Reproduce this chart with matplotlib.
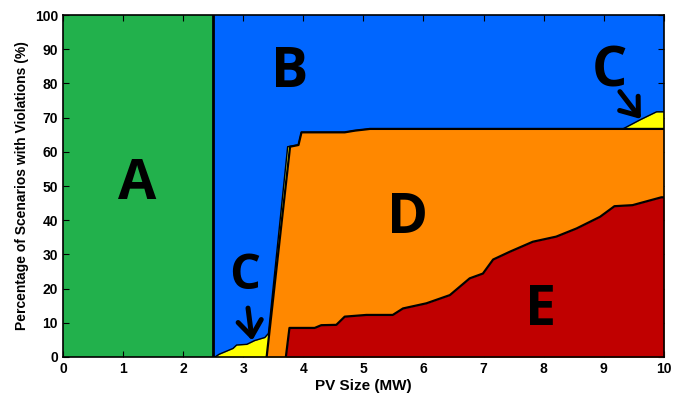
import matplotlib
matplotlib.use("Agg")
import matplotlib.pyplot as plt

# region boundaries (x in MW, y in %)
boundary_ab = 2.5

c_x = [2.5, 2.53, 2.6, 2.83, 2.89, 3.06, 3.19, 3.36, 3.42, 3.74, 3.92, 3.97, 4.69, 4.86, 5.11, 9.32, 9.6, 9.88, 10.0]
c_y = [0.0, 0.0, 0.8, 2.5, 3.5, 3.7, 4.8, 5.7, 6.9, 61.5, 62.0, 65.7, 65.7, 66.2, 66.7, 66.7, 69.3, 71.7, 71.7]

d_x = [3.39, 3.78, 3.92, 3.97, 4.69, 4.86, 5.11, 10.0]
d_y = [0.0, 61.5, 62.0, 65.7, 65.7, 66.2, 66.7, 66.7]

e_x = [3.71, 3.77, 4.19, 4.30, 4.55, 4.69, 5.05, 5.49, 5.66, 6.05, 6.44, 6.77, 6.99, 7.16,
       7.44, 7.82, 8.21, 8.55, 8.94, 9.18, 9.48, 9.96, 10.0]
e_y = [0.0, 8.5, 8.5, 9.3, 9.4, 11.8, 12.3, 12.3, 14.2, 15.7, 18.1, 23.0, 24.4, 28.5,
       30.8, 33.7, 35.2, 37.6, 41.0, 44.1, 44.4, 46.7, 46.7]

labels = ["A", "B", "C", "C", "D", "E"]
label_x = [1.23, 3.78, 3.03, 9.1, 5.74, 7.95]
label_y = [50.4, 83.3, 23.5, 83.3, 40.6, 13.7]
label_size = [40, 40, 35, 40, 40, 40]

# arrows: (tail x, tail y, tip x, tip y)
arrows = [(3.08, 14.3, 3.15, 4.8), (9.27, 77.6, 9.62, 69.6)]

GREEN = "#22b14c"
BLUE = "#0066ff"
YELLOW = "#ffff00"
ORANGE = "#ff8800"
RED = "#c00000"

fig = plt.figure(figsize=(6.8, 3.96), dpi=100)
ax = fig.add_axes([0.0926, 0.0985, 0.8835, 0.8635])

ax.axvspan(0, boundary_ab, color=GREEN, lw=0, zorder=1)
ax.axvspan(boundary_ab, 10, color=BLUE, lw=0, zorder=1)

ax.fill_between(c_x, 0, c_y, color=YELLOW, lw=0, zorder=2)
ax.plot(c_x, c_y, color="black", lw=1.0, zorder=2.5)
ax.fill_between(d_x, 0, d_y, color=ORANGE, lw=0, zorder=3)
ax.plot(d_x, d_y, color="black", lw=1.6, zorder=3.5)
ax.fill_between(e_x, 0, e_y, color=RED, lw=0, zorder=4)
ax.plot(e_x, e_y, color="black", lw=1.6, zorder=4.5)
ax.axvline(boundary_ab, color="black", lw=2, zorder=5)

for txt, lx, ly, fs in zip(labels, label_x, label_y, label_size):
    ax.text(lx, ly, txt, fontsize=fs, fontweight="bold", family="Open Sans",
            ha="center", va="center", zorder=6)

arrow_style = dict(arrowstyle="->,head_length=0.4,head_width=0.3", lw=3.6, color="black",
                   mutation_scale=28, shrinkA=0, shrinkB=0)
for x0, y0, x1, y1 in arrows:
    ax.annotate("", xy=(x1, y1), xytext=(x0, y0), arrowprops=arrow_style, zorder=6)

ax.set_xlim(0, 10)
ax.set_ylim(0, 100)
ax.set_xticks(range(0, 11))
ax.set_yticks(range(0, 101, 10))
ax.tick_params(direction="in", top=True, right=True, length=4, labelsize=10)
for lab in ax.get_xticklabels() + ax.get_yticklabels():
    lab.set_fontweight("bold")
    lab.set_family("Liberation Sans")
ax.set_xlabel("PV Size (MW)", fontsize=11, fontweight="bold", family="Liberation Sans", labelpad=2)
ax.set_ylabel("Percentage of Scenarios with Violations (%)", fontsize=10, fontweight="bold",
              family="Liberation Sans", labelpad=4)
for sp in ax.spines.values():
    sp.set_linewidth(1.2)
    sp.set_zorder(7)

fig.savefig("out.png", dpi=100)
